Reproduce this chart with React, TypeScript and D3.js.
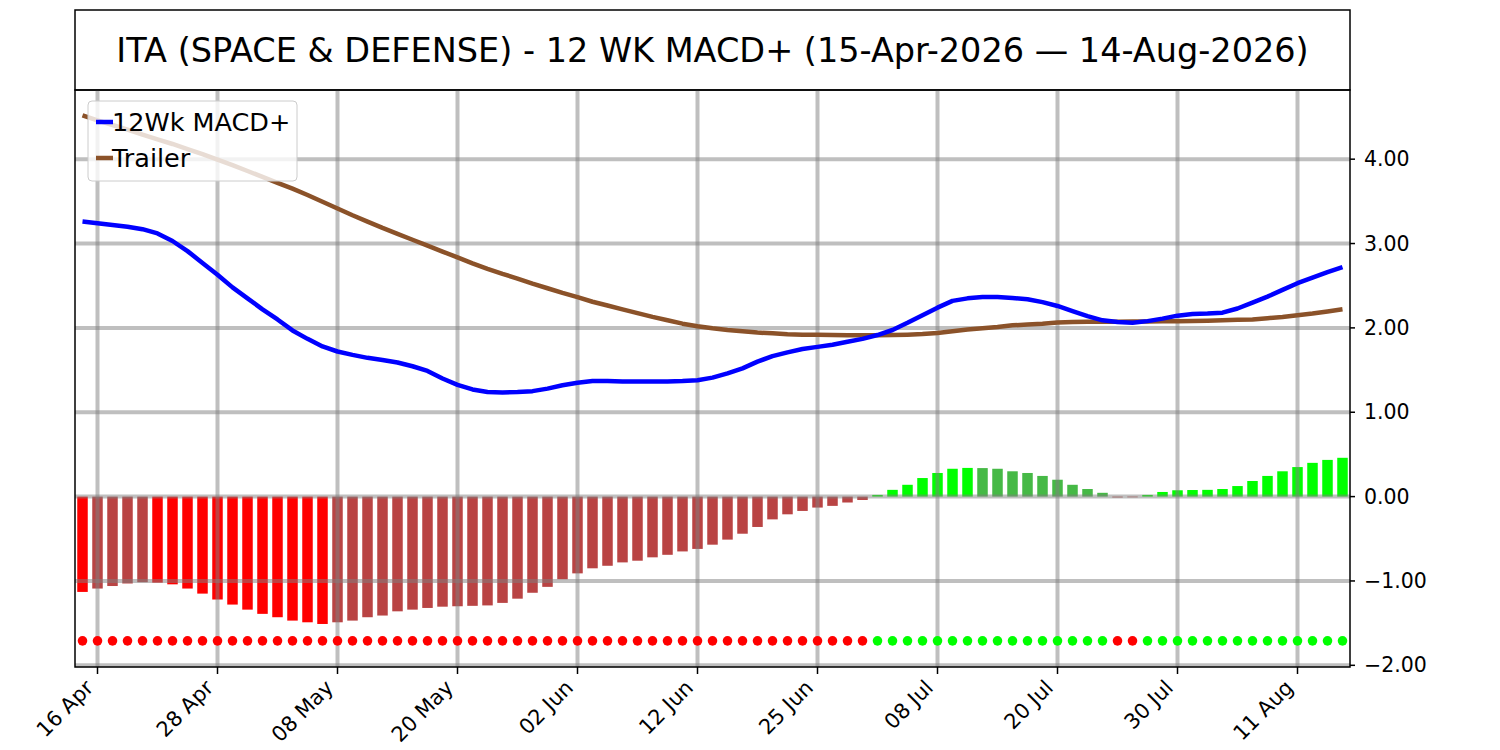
import React, { useEffect, useRef } from 'react';
import * as d3 from 'd3';

// trading days shown on the chart
const dates = [
  '15 Apr', '16 Apr', '17 Apr', '20 Apr', '21 Apr', '22 Apr', '23 Apr', '24 Apr', '27 Apr', '28 Apr',
  '29 Apr', '30 Apr', '01 May', '04 May', '05 May', '06 May', '07 May', '08 May', '11 May', '12 May',
  '13 May', '14 May', '15 May', '18 May', '19 May', '20 May', '21 May', '22 May', '26 May', '27 May',
  '28 May', '29 May', '01 Jun', '02 Jun', '03 Jun', '04 Jun', '05 Jun', '08 Jun', '09 Jun', '10 Jun',
  '11 Jun', '12 Jun', '15 Jun', '16 Jun', '17 Jun', '18 Jun', '22 Jun', '23 Jun', '24 Jun', '25 Jun',
  '26 Jun', '29 Jun', '30 Jun', '01 Jul', '02 Jul', '06 Jul', '07 Jul', '08 Jul', '09 Jul', '10 Jul',
  '13 Jul', '14 Jul', '15 Jul', '16 Jul', '17 Jul', '20 Jul', '21 Jul', '22 Jul', '23 Jul', '24 Jul',
  '27 Jul', '28 Jul', '29 Jul', '30 Jul', '31 Jul', '03 Aug', '04 Aug', '05 Aug', '06 Aug', '07 Aug',
  '10 Aug', '11 Aug', '12 Aug', '13 Aug', '14 Aug',
];

const macd = [
  3.26, 3.24, 3.22, 3.20, 3.17, 3.12, 3.03, 2.91, 2.77, 2.63,
  2.48, 2.35, 2.22, 2.10, 1.97, 1.87, 1.78, 1.72, 1.68, 1.645,
  1.62, 1.59, 1.545, 1.49, 1.40, 1.325, 1.27, 1.24, 1.235, 1.24,
  1.25, 1.28, 1.32, 1.35, 1.37, 1.37, 1.365, 1.365, 1.365, 1.365,
  1.37, 1.38, 1.41, 1.46, 1.52, 1.60, 1.665, 1.71, 1.75, 1.775,
  1.80, 1.835, 1.87, 1.915, 1.975, 2.06, 2.15, 2.24, 2.32, 2.35,
  2.365, 2.365, 2.355, 2.34, 2.305, 2.26, 2.20, 2.14, 2.09, 2.07,
  2.06, 2.08, 2.11, 2.145, 2.165, 2.17, 2.18, 2.23, 2.30, 2.37,
  2.45, 2.53, 2.595, 2.66, 2.72,
];

const trailer = [
  4.52, 4.46, 4.405, 4.35, 4.29, 4.235, 4.18, 4.12, 4.06, 3.995,
  3.93, 3.86, 3.79, 3.72, 3.65, 3.575, 3.495, 3.415, 3.335, 3.26,
  3.185, 3.115, 3.045, 2.975, 2.905, 2.835, 2.765, 2.70, 2.64, 2.585,
  2.525, 2.47, 2.415, 2.365, 2.31, 2.265, 2.22, 2.175, 2.13, 2.09,
  2.05, 2.02, 1.995, 1.975, 1.96, 1.945, 1.935, 1.925, 1.92, 1.918,
  1.915, 1.913, 1.912, 1.912, 1.915, 1.92, 1.928, 1.94, 1.96, 1.98,
  1.995, 2.01, 2.03, 2.04, 2.05, 2.065, 2.07, 2.072, 2.073, 2.074,
  2.075, 2.077, 2.078, 2.08, 2.082, 2.085, 2.09, 2.095, 2.10, 2.115,
  2.13, 2.15, 2.17, 2.195, 2.22,
];

const histogram = [
  -1.13, -1.09, -1.06, -1.03, -1.015, -1.02, -1.04, -1.09, -1.15, -1.22,
  -1.28, -1.34, -1.39, -1.43, -1.47, -1.49, -1.51, -1.49, -1.47, -1.43,
  -1.41, -1.36, -1.34, -1.32, -1.305, -1.30, -1.295, -1.29, -1.26, -1.21,
  -1.14, -1.07, -0.98, -0.91, -0.85, -0.82, -0.78, -0.76, -0.72, -0.69,
  -0.65, -0.62, -0.57, -0.51, -0.44, -0.36, -0.27, -0.21, -0.17, -0.13,
  -0.11, -0.07, -0.04, 0.02, 0.08, 0.14, 0.22, 0.28, 0.33, 0.34,
  0.338, 0.33, 0.30, 0.28, 0.245, 0.20, 0.14, 0.09, 0.045, -0.01,
  -0.008, 0.02, 0.055, 0.075, 0.078, 0.08, 0.09, 0.125, 0.185, 0.245,
  0.30, 0.35, 0.40, 0.435, 0.46,
];

const yTicks = [-2, -1, 0, 1, 2, 3, 4];
const signalLevel = -1.71;
const title = 'ITA (SPACE & DEFENSE) - 12 WK MACD+ (15-Apr-2026 \u2014 14-Aug-2026)';

const FONT = 'DejaVu Sans, sans-serif';

const App: React.FC = () => {
  const svgRef = useRef<SVGSVGElement>(null);

  useEffect(() => {
    if (!svgRef.current) return;
    const svg = d3.select(svgRef.current);
    svg.selectAll('*').remove();

    const left = 75, right = 1350, top = 90, bottom = 667;

    const x = d3.scaleLinear().domain([-0.5, dates.length - 0.5]).range([left, right]);
    const y = d3.scaleLinear().domain([-2.02, 4.82]).range([bottom, top]);
    const barW = (x(1) - x(0)) * 0.7;

    svg.append('rect').attr('width', 1500).attr('height', 750).attr('fill', 'white');

    // title box
    svg.append('rect')
      .attr('x', left).attr('y', 10).attr('width', right - left).attr('height', top - 10)
      .attr('fill', 'white').attr('stroke', 'black').attr('stroke-width', 1.5);
    svg.append('text')
      .attr('x', (left + right) / 2).attr('y', 50)
      .attr('text-anchor', 'middle').attr('dominant-baseline', 'central')
      .style('font-family', FONT).style('font-size', '33.5px')
      .text(title);

    const g = svg.append('g');

    const barColor = (h: number, i: number) => {
      const prev = i > 0 ? histogram[i - 1] : null;
      if (h >= 0) return prev === null || h > prev ? '#00ff00' : '#46b946';
      return prev === null || (h < prev && prev < 0) ? '#ff0000' : '#b94444';
    };

    g.selectAll('.bar')
      .data(histogram)
      .enter().append('rect')
      .attr('x', (_, i) => x(i) - barW / 2)
      .attr('y', d => y(Math.max(0, d)))
      .attr('width', barW)
      .attr('height', d => Math.abs(y(d) - y(0)))
      .attr('fill', (d, i) => barColor(d, i));

    // grid (drawn over the bars)
    const tickIdx = dates.map((_, i) => i).filter(i => i % 8 === 1);
    g.selectAll('.hgrid')
      .data(yTicks)
      .enter().append('line')
      .attr('x1', left).attr('x2', right)
      .attr('y1', d => y(d)).attr('y2', d => y(d))
      .attr('stroke', '#808080').attr('stroke-opacity', 0.5).attr('stroke-width', 4);
    g.selectAll('.vgrid')
      .data(tickIdx)
      .enter().append('line')
      .attr('x1', d => x(d)).attr('x2', d => x(d))
      .attr('y1', top).attr('y2', bottom)
      .attr('stroke', '#808080').attr('stroke-opacity', 0.5).attr('stroke-width', 4);

    // signal dots
    g.selectAll('.dot')
      .data(histogram)
      .enter().append('circle')
      .attr('cx', (_, i) => x(i))
      .attr('cy', y(signalLevel))
      .attr('r', 4.8)
      .attr('fill', d => (d >= 0 ? '#00ff00' : '#ff0000'));

    const line = d3.line<number>().x((_, i) => x(i)).y(d => y(d));
    g.append('path').datum(trailer)
      .attr('d', line).attr('fill', 'none')
      .attr('stroke', '#8b5229').attr('stroke-width', 4.5)
      .attr('stroke-linejoin', 'round');
    g.append('path').datum(macd)
      .attr('d', line).attr('fill', 'none')
      .attr('stroke', '#0000ff').attr('stroke-width', 4.5)
      .attr('stroke-linejoin', 'round');

    // legend
    const lg = svg.append('g');
    lg.append('rect')
      .attr('x', 88).attr('y', 101).attr('width', 209).attr('height', 80).attr('rx', 4)
      .attr('fill', 'white').attr('fill-opacity', 0.8)
      .attr('stroke', '#cccccc').attr('stroke-width', 1);
    const items = [
      { label: '12Wk MACD+', color: '#0000ff' },
      { label: 'Trailer', color: '#8b5229' },
    ];
    items.forEach((it, i) => {
      const cy = 122 + i * 36;
      lg.append('line')
        .attr('x1', 96).attr('x2', 113).attr('y1', cy).attr('y2', cy)
        .attr('stroke', it.color).attr('stroke-width', 4.5);
      lg.append('text')
        .attr('x', 112).attr('y', cy + 9)
        .style('font-family', FONT).style('font-size', '25.5px')
        .text(it.label);
    });

    // spines
    svg.append('rect')
      .attr('x', left).attr('y', top).attr('width', right - left).attr('height', bottom - top)
      .attr('fill', 'none').attr('stroke', 'black').attr('stroke-width', 1.5);

    // right axis
    const ya = svg.append('g');
    yTicks.forEach(t => {
      ya.append('line')
        .attr('x1', right).attr('x2', right + 5).attr('y1', y(t)).attr('y2', y(t))
        .attr('stroke', 'black').attr('stroke-width', 1.5);
      ya.append('text')
        .attr('x', right + 14).attr('y', y(t))
        .attr('dominant-baseline', 'central')
        .style('font-family', FONT).style('font-size', '20.5px')
        .text(d3.format('.2f')(t));
    });

    // bottom axis
    const xa = svg.append('g');
    tickIdx.forEach(i => {
      xa.append('line')
        .attr('x1', x(i)).attr('x2', x(i)).attr('y1', bottom).attr('y2', bottom + 7)
        .attr('stroke', 'black').attr('stroke-width', 1.5);
      xa.append('text')
        .attr('transform', `translate(${x(i) - 3},${bottom + 22}) rotate(-45)`)
        .attr('text-anchor', 'end')
        .style('font-family', FONT).style('font-size', '21px')
        .text(dates[i]);
    });
  }, []);

  return (
    <svg
      ref={svgRef}
      width={1500}
      height={750}
      style={{ position: 'absolute', left: 0, top: 0 }}
    />
  );
};

export default App;
